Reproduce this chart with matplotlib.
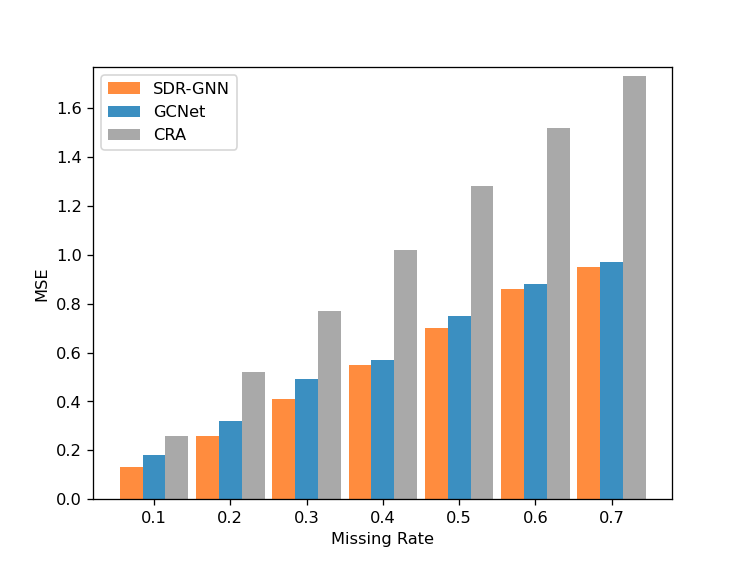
import numpy as np
import matplotlib.pyplot as plt

rates = ["0.1", "0.2", "0.3", "0.4", "0.5", "0.6", "0.7"]
sdr_gnn = [0.13, 0.26, 0.41, 0.55, 0.70, 0.86, 0.95]
gcnet = [0.18, 0.32, 0.49, 0.57, 0.75, 0.88, 0.97]
cra = [0.26, 0.52, 0.77, 1.02, 1.28, 1.52, 1.73]

x = np.arange(len(rates))
w = 0.3

plt.figure(figsize=(6.4, 4.807), dpi=116.72)

plt.bar(x - w, sdr_gnn, w, color="#FF8C3E", label="SDR-GNN")
plt.bar(x, gcnet, w, color="#3B8FC1", label="GCNet")
plt.bar(x + w, cra, w, color="#A9A9A9", label="CRA")

plt.xticks(x, rates)
plt.ylim(0, 1.767)
plt.xlabel("Missing Rate")
plt.ylabel("MSE")
plt.legend(loc="upper left")

plt.savefig("out.png")
